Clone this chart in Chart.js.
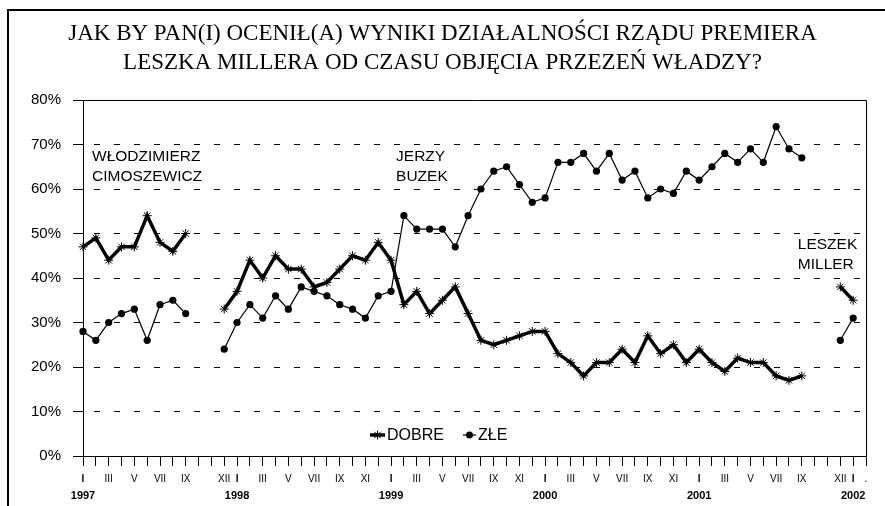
<!DOCTYPE html>
<html><head><meta charset="utf-8">
<script src="https://cdn.jsdelivr.net/npm/chart.js@4.4.0/dist/chart.umd.min.js"></script>
<style>html,body{margin:0;padding:0;background:#fff;}#wrap{position:relative;width:885px;height:506px;}</style>
</head><body><div id="wrap"><canvas id="c" width="885" height="506"></canvas></div>
<script>
const months = ['I','II','III','IV','V','VI','VII','VIII','IX','X','XI','XII'];
const years = ['1997','1998','1999','2000','2001','2002'];
const categories = years.flatMap(y => months.map(m => m + ' ' + y)).slice(0, 62);
const tickLabels = [
  'I','','III','','V','','VII','','IX','','','XII',
  'I','','III','','V','','VII','','IX','','XI','',
  'I','','III','','V','','VII','','IX','','XI','',
  'I','','III','','V','','VII','','IX','','XI','',
  'I','','III','','V','','VII','','IX','','','XII',
  'I','.'
];
const yearLabels = ['1997','1998','1999','2000','2001','2002'];
const yearTickIndex = [0,12,24,36,48,60];
const dobre = [
  47,49,44,47,47,54,48,46,50,null,null,33,
  37,44,40,45,42,42,38,39,42,45,44,48,
  44,34,37,32,35,38,32,26,25,26,27,28,
  28,23,21,18,21,21,24,21,27,23,25,21,
  24,21,19,22,21,21,18,17,18,null,null,38,
  35,null
];
const zle = [
  28,26,30,32,33,26,34,35,32,null,null,24,
  30,34,31,36,33,38,37,36,34,33,31,36,
  37,54,51,51,51,47,54,60,64,65,61,57,
  58,66,66,68,64,68,62,64,58,60,59,64,
  62,65,68,66,69,66,74,69,67,null,null,26,
  31,null
];
const titleLines = ['JAK BY PAN(I) OCENIŁ(A) WYNIKI DZIAŁALNOŚCI RZĄDU PREMIERA','LESZKA MILLERA OD CZASU OBJĘCIA PRZEZEŃ WŁADZY?'];
const notes = [
  {lines:['WŁODZIMIERZ','CIMOSZEWICZ'], idx:0, dx:9, v:67.2},
  {lines:['JERZY','BUZEK'], idx:24, dx:5, v:67.2},
  {lines:['LESZEK','MILLER'], idx:56, dx:-4, v:47.4}
];
const SANS = '"Liberation Sans", Arial, sans-serif';

const decor = {
  id:'decor',
  beforeDraw(chart){
    const c = chart.ctx;
    c.save();
    c.fillStyle='#fff'; c.fillRect(0,0,chart.width,chart.height);
    c.fillStyle='#000';
    c.fillRect(7,9,chart.width-7,2);
    c.fillRect(7,9,2,chart.height-9);
    c.font = '23px "Liberation Serif", "Times New Roman", serif';
    c.textAlign='center'; c.textBaseline='middle';
    c.fillText(titleLines[0], 442.5, 34);
    c.fillText(titleLines[1], 442.5, 63);
    c.restore();
  },
  afterDraw(chart){
    const c = chart.ctx, a = chart.chartArea, xs = chart.scales.x, ys = chart.scales.y;
    c.save();
    c.strokeStyle='#000'; c.lineWidth=1;
    c.beginPath();
    const t = Math.round(a.top)+0.5, r = Math.round(a.right)+0.5;
    c.moveTo(Math.round(a.left), t); c.lineTo(r, t); c.lineTo(r, Math.round(a.bottom));
    c.stroke();
    // years
    c.fillStyle='#000';
    c.font = 'bold 11px ' + SANS; c.textAlign='center'; c.textBaseline='middle';
    yearTickIndex.forEach((ix,k)=>{ c.fillText(yearLabels[k], xs.getPixelForValue(ix), 496); });
    // notes
    c.font = '15.5px ' + SANS; c.textAlign='left';
    notes.forEach(n=>{
      const x = xs.getPixelForValue(n.idx) + n.dx, y = ys.getPixelForValue(n.v);
      n.lines.forEach((l,i)=> c.fillText(l, x, y + i*19.5));
    });
    // legend
    const ly = 435;
    c.font = '16px ' + SANS;
    c.lineWidth = 3.5; c.beginPath(); c.moveTo(370,ly); c.lineTo(385,ly); c.stroke();
    c.lineWidth = 1; c.beginPath();
    const sx=377.5, rr=4.5;
    c.moveTo(sx-rr,ly); c.lineTo(sx+rr,ly); c.moveTo(sx,ly-rr); c.lineTo(sx,ly+rr);
    c.moveTo(sx-rr*0.7,ly-rr*0.7); c.lineTo(sx+rr*0.7,ly+rr*0.7);
    c.moveTo(sx-rr*0.7,ly+rr*0.7); c.lineTo(sx+rr*0.7,ly-rr*0.7);
    c.stroke();
    c.fillText('DOBRE', 387, ly+0.5);
    c.lineWidth = 1.2; c.beginPath(); c.moveTo(463,ly); c.lineTo(476,ly); c.stroke();
    c.beginPath(); c.arc(469.5,ly,3.5,0,Math.PI*2); c.fill();
    c.fillText('ZŁE', 478, ly+0.5);
    c.restore();
  }
};

new Chart(document.getElementById('c'), {
  type:'line',
  data:{labels:categories, datasets:[
    {label:'DOBRE', data:dobre, borderColor:'#000', backgroundColor:'#000', borderWidth:3.5,
     pointStyle:'star', pointRadius:4.5, pointBorderWidth:1, pointBorderColor:'#000', spanGaps:false, tension:0},
    {label:'ZŁE', data:zle, borderColor:'#000', backgroundColor:'#000', borderWidth:1.2,
     pointStyle:'circle', pointRadius:3.6, pointBorderWidth:0, pointBackgroundColor:'#000', spanGaps:false, tension:0}
  ]},
  options:{
    responsive:false, animation:false, devicePixelRatio:1,
    layout:{padding:{left:0,right:19,top:100,bottom:0}},
    plugins:{legend:{display:false}, tooltip:{enabled:false}, title:{display:false}},
    scales:{
      x:{type:'category', offset:false,
        grid:{drawOnChartArea:false, drawTicks:true, tickLength:10, color:'#000', tickColor:'#000', lineWidth:1},
        border:{color:'#000', width:1},
        ticks:{autoSkip:false, maxRotation:0, minRotation:0, padding:7, color:'#000',
          font:(ctx)=>({family:SANS, size:10, weight: tickLabels[ctx.index]==='I' ? 'bold' : 'normal'}),
          callback:(v,i)=>tickLabels[i]},
        afterFit:(s)=>{s.height=50;}
      },
      y:{min:0, max:80,
        ticks:{stepSize:10, callback:(v)=>v+'%', color:'#000', font:{family:SANS, size:15}, padding:12},
        grid:{color:(ctx)=>(ctx.tick && (ctx.tick.value===0 || ctx.tick.value===80)) ? 'rgba(0,0,0,0)' : '#000',
              tickColor:'#000', tickLength:10, lineWidth:1},
        border:{color:'#000', width:1, dash:[6,14], dashOffset:10},
        afterFit:(s)=>{s.width=83;}
      }
    }
  },
  plugins:[decor]
});
</script></body></html>
